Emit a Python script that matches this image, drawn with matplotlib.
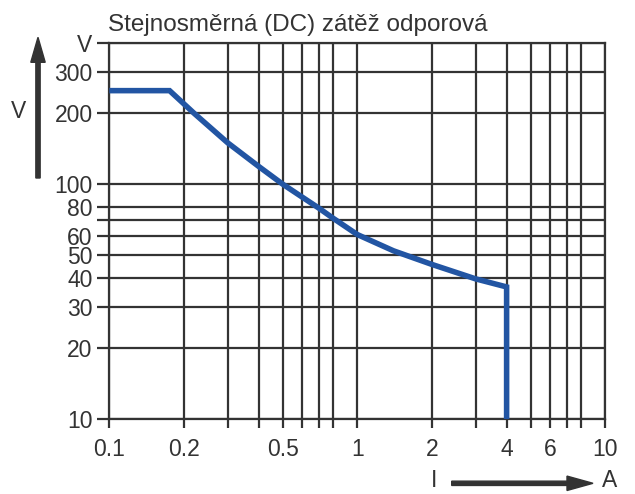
import matplotlib
matplotlib.use("Agg")
import matplotlib.pyplot as plt
from matplotlib.ticker import FixedLocator, FixedFormatter, NullFormatter
from matplotlib.patches import FancyArrow
from matplotlib.transforms import IdentityTransform

# ---- data ----
current_A = [0.1, 0.175, 0.22, 0.3, 0.4, 0.5, 0.6, 0.7, 0.8, 1.0, 1.4, 2.0, 3.0, 4.0, 4.0]
voltage_V = [250, 250, 200, 150, 119, 100, 88, 79, 71.5, 61, 52, 45.5, 39.5, 36.5, 10]

x_label_ticks = [0.1, 0.2, 0.5, 1, 2, 4, 6, 10]
x_labels = ["0.1", "0.2", "0.5", "1", "2", "4", "6", "10"]
x_plain_ticks = [0.3, 0.4, 0.6, 0.7, 0.8, 3, 5, 7, 8]
y_label_ticks = [10, 20, 30, 40, 50, 60, 80, 100, 200, 300, 400]
y_labels = ["10", "20", "30", "40", "50", "60", "80", "100", "200", "300", "V"]
y_plain_ticks = [70]

title = "Stejnosměrná (DC) zátěž odporová"

# ---- styling ----
W, H = 635, 494
DARK = "#333333"
BLUE = "#2255a3"
FONT = ["Liberation Sans", "DejaVu Sans"]
plt.rcParams["font.family"] = FONT
FS = 16.5

fig = plt.figure(figsize=(W / 100, H / 100), dpi=100)
left, right = 109.3, 605.3
top, bottom = 42.7, 419.0
ax = fig.add_axes([left / W, (H - bottom) / H, (right - left) / W, (bottom - top) / H])

ax.set_xscale("log")
ax.set_yscale("log")
ax.set_xlim(0.1, 10)
ax.set_ylim(10, 400)

ax.xaxis.set_major_locator(FixedLocator(x_label_ticks))
ax.xaxis.set_major_formatter(FixedFormatter(x_labels))
ax.xaxis.set_minor_locator(FixedLocator(x_plain_ticks))
ax.xaxis.set_minor_formatter(NullFormatter())
ax.yaxis.set_major_locator(FixedLocator(y_label_ticks))
ax.yaxis.set_major_formatter(FixedFormatter(y_labels))
ax.yaxis.set_minor_locator(FixedLocator(y_plain_ticks))
ax.yaxis.set_minor_formatter(NullFormatter())

ax.grid(True, which="both", color=DARK, linewidth=1.6)
for s in ax.spines.values():
    s.set_color(DARK)
    s.set_linewidth(1.6)
ax.tick_params(axis="x", which="both", length=6.5, width=1.6, color=DARK, pad=7,
               labelsize=FS, labelcolor=DARK)
ax.tick_params(axis="y", which="both", length=8.6, width=1.6, color=DARK, pad=3.4,
               labelsize=FS, labelcolor=DARK)

ax.plot(current_A, voltage_V, color=BLUE, linewidth=4.0, solid_joinstyle="miter",
        solid_capstyle="butt", zorder=5, clip_on=False)

# title
fig.text(108 / W, (H - 30.7) / H, title, fontsize=17.5, color=DARK,
         ha="left", va="baseline")

# axis arrows (in pixel coordinates)
tr = IdentityTransform()
fig.add_artist(FancyArrow(38, H - 178, 0, 178 - 37.3, width=4.3, head_width=14.4,
                          head_length=25, length_includes_head=True,
                          color=DARK, transform=tr))
fig.add_artist(FancyArrow(451.7, H - 483.3, 593 - 451.7, 0, width=4.3, head_width=14.4,
                          head_length=26, length_includes_head=True,
                          color=DARK, transform=tr))
fig.text(19 / W, (H - 112) / H, "V", fontsize=FS, color=DARK, ha="center", va="center")
fig.text(434.5 / W, (H - 480) / H, "I", fontsize=FS, color=DARK, ha="center", va="center")
fig.text(610 / W, (H - 480) / H, "A", fontsize=FS, color=DARK, ha="center", va="center")

fig.savefig("out.png", dpi=100)
